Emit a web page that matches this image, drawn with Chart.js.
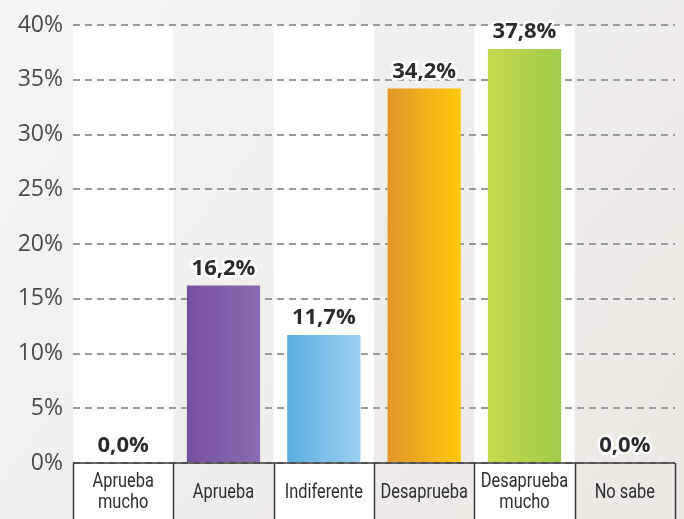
<!DOCTYPE html>
<html>
<head>
<meta charset="utf-8">
<script src="https://cdn.jsdelivr.net/npm/chart.js@4/dist/chart.umd.min.js"></script>
<style>
  html, body { margin: 0; padding: 0; background: #f1efea; }
  #wrap { width: 684px; height: 519px; }
</style>
</head>
<body>
<div id="wrap"><canvas id="chart" width="684" height="519"></canvas></div>
<script>
const categories = [['Aprueba', 'mucho'], 'Aprueba', 'Indiferente', 'Desaprueba', ['Desaprueba', 'mucho'], 'No sabe'];
const values = [0.0, 16.2, 11.7, 34.2, 37.8, 0.0];
const yTicks = [0, 5, 10, 15, 20, 25, 30, 35, 40];
const gradStops = [
  ['#7a55a4', '#7a55a4'],
  ['#7550a1', '#8b6bb1'],
  ['#5aade0', '#9cd2f1'],
  ['#e2962a', '#ffc80a'],
  ['#c4da4c', '#a0cb4a'],
  ['#999999', '#999999']
];

const ctx = document.getElementById('chart');

function barFill(c) {
  const chart = c.chart;
  const x = chart.scales.x;
  if (!x || !chart.chartArea) return gradStops[c.dataIndex][0];
  const center = x.getPixelForValue(c.dataIndex);
  const half = (x.width / categories.length) * 0.73 / 2;
  const g = chart.ctx.createLinearGradient(center - half, 0, center + half, 0);
  g.addColorStop(0, gradStops[c.dataIndex][0]);
  g.addColorStop(1, gradStops[c.dataIndex][1]);
  return g;
}

// background, white stripes behind alternate columns
const backdrop = {
  id: 'backdrop',
  beforeDraw(chart) {
    const c = chart.ctx, a = chart.chartArea, x = chart.scales.x;
    c.save();
    const bg = c.createLinearGradient(0, 0, chart.width, chart.height);
    bg.addColorStop(0, '#f6f5f2');
    bg.addColorStop(1, '#ebe8e1');
    c.fillStyle = bg;
    c.fillRect(0, 0, chart.width, chart.height);
    const w = x.width / categories.length;
    c.fillStyle = '#fefefd';
    categories.forEach((_, i) => {
      if (i % 2 === 0) {
        const cx = x.getPixelForValue(i);
        c.fillRect(cx - w / 2, a.top, w, chart.height - a.top);
      }
    });
    c.restore();
  },
  afterDraw(chart) {
    // label boxes under the axis, with the category names centred in them
    const c = chart.ctx, a = chart.chartArea, x = chart.scales.x;
    const w = x.width / categories.length;
    c.save();
    c.strokeStyle = '#3a3a3a';
    c.lineWidth = 1.5;
    c.beginPath();
    c.moveTo(a.left, a.bottom);
    c.lineTo(a.right, a.bottom);
    for (let i = 0; i <= categories.length; i++) {
      const px = Math.round(a.left + i * w) + 0.5;
      c.moveTo(px, a.bottom);
      c.lineTo(px, chart.height + 2);
    }
    c.stroke();

    c.fillStyle = '#2e2e2e';
    c.font = '21px Roboto, "Open Sans", sans-serif';
    c.textAlign = 'center';
    c.textBaseline = 'middle';
    categories.forEach((lab, i) => {
      const lines = Array.isArray(lab) ? lab : [lab];
      const cx = x.getPixelForValue(i);
      const mid = a.bottom + 29.5;
      lines.forEach((ln, k) => {
        const y = mid + (k - (lines.length - 1) / 2) * 21;
        c.save();
        c.translate(cx, y);
        c.scale(0.78, 1);
        c.fillText(ln, 0, 0);
        c.restore();
      });
    });
    c.restore();
  }
};

// value labels above bars
const valueLabels = {
  id: 'valueLabels',
  afterDatasetsDraw(chart) {
    const c = chart.ctx;
    const meta = chart.getDatasetMeta(0);
    c.save();
    c.font = 'bold 22px "Open Sans", "DejaVu Sans", sans-serif';
    c.textAlign = 'center';
    c.textBaseline = 'alphabetic';
    c.lineJoin = 'round';
    meta.data.forEach((bar, i) => {
      const txt = values[i].toFixed(1).replace('.', ',') + '%';
      const y = bar.y - 11;
      c.strokeStyle = '#ffffff';
      c.lineWidth = 5;
      c.strokeText(txt, bar.x, y);
      c.fillStyle = '#2b2b2b';
      c.fillText(txt, bar.x, y);
    });
    c.restore();
  }
};

new Chart(ctx, {
  type: 'bar',
  data: {
    labels: categories,
    datasets: [{
      data: values,
      backgroundColor: barFill,
      borderWidth: 0,
      categoryPercentage: 1,
      barPercentage: 0.73
    }]
  },
  options: {
    responsive: false,
    animation: false,
    layout: { padding: { top: 25, right: 9, left: 0, bottom: 0 } },
    plugins: { legend: { display: false }, tooltip: { enabled: false } },
    scales: {
      x: {
        grid: { display: false },
        border: { display: false },
        ticks: { display: false },
        afterFit(s) { s.height = 56; }
      },
      y: {
        min: 0,
        max: 40,
        afterBuildTicks(s) { s.ticks = yTicks.map(v => ({ value: v })); },
        grid: {
          color: '#9a9a98',
          lineWidth: 2,
          drawTicks: false
        },
        border: { display: false, dash: [7, 5] },
        ticks: {
          color: '#4a4a4a',
          font: { family: '"Open Sans", "DejaVu Sans", sans-serif', size: 23 },
          padding: 10,
          callback: v => v + '%'
        },
        afterFit(s) { s.width = 73; }
      }
    }
  },
  plugins: [backdrop, valueLabels]
});
</script>
</body>
</html>
